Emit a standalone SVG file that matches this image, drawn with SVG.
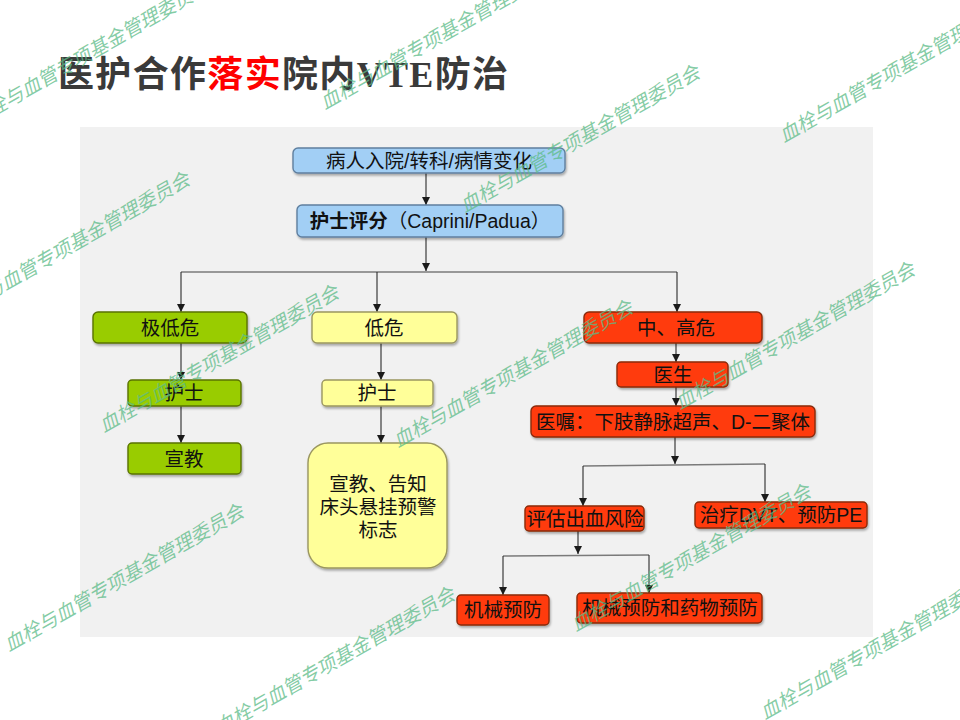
<svg xmlns="http://www.w3.org/2000/svg" width="960" height="720" viewBox="0 0 960 720">
<defs>
<style>
.box{stroke-width:1.4}
.blue{fill:#a2cff5;stroke:#5f7f9f}
.green{fill:#99cc00;stroke:#5a7300}
.yellow{fill:#ffff99;stroke:#9a9660}
.red{fill:#ff3a0a;stroke:#8a2a08}
.t{font-family:"Liberation Sans","Noto Sans CJK SC",sans-serif;font-size:19.5px;fill:#111;text-anchor:middle}
.ln{fill:none;stroke:#2a2a2a;stroke-width:1.1}
.hl{fill:none;stroke:#7a7a7a;stroke-width:1.6}
.wm{font-family:"Noto Sans CJK SC",sans-serif;font-size:19.5px;fill:#5dbb88;fill-opacity:0.75;font-style:italic}
</style>
<marker id="ah" markerUnits="userSpaceOnUse" markerWidth="8" markerHeight="8" refX="4" refY="8" orient="0" viewBox="0 0 8 8">
<path d="M0,0 L8,0 L4,8 z" fill="#1a1a1a"/>
</marker>
<filter id="sh" x="-10%" y="-20%" width="130%" height="160%">
<feDropShadow dx="1" dy="2" stdDeviation="1.2" flood-color="#000" flood-opacity="0.3"/>
</filter>
</defs>
<rect x="0" y="0" width="960" height="720" fill="#ffffff"/>
<text x="58" y="87" font-family="Noto Sans CJK SC,sans-serif" font-size="36" font-weight="bold" fill="#3a3a3a" textLength="450" lengthAdjust="spacing">医护合作<tspan fill="#ff0000">落实</tspan>院内<tspan font-family="Liberation Serif,serif">VTE</tspan>防治</text>
<rect x="80" y="127" width="793" height="510" fill="#f1f1f1"/>
<g id="connectors">
<path class="ln" d="M426,173 V205" marker-end="url(#ah)"/>
<path class="ln" d="M426,237 V271" marker-end="url(#ah)"/>
<path class="hl" d="M181,272 H677"/>
<path class="ln" d="M181,272 V312" marker-end="url(#ah)"/>
<path class="ln" d="M377,272 V312" marker-end="url(#ah)"/>
<path class="ln" d="M677,272 V312" marker-end="url(#ah)"/>
<path class="ln" d="M181,343 V380" marker-end="url(#ah)"/>
<path class="ln" d="M181,406 V443" marker-end="url(#ah)"/>
<path class="ln" d="M381,343 V380" marker-end="url(#ah)"/>
<path class="ln" d="M381,406 V443" marker-end="url(#ah)"/>
<path class="ln" d="M676,343 V362" marker-end="url(#ah)"/>
<path class="ln" d="M676,387 V406" marker-end="url(#ah)"/>
<path class="ln" d="M675,437 V464" marker-end="url(#ah)"/>
<path class="hl" d="M583,466 L765,464"/>
<path class="ln" d="M583,466 V506" marker-end="url(#ah)"/>
<path class="ln" d="M765,464 V502" marker-end="url(#ah)"/>
<path class="ln" d="M578,531 V554" marker-end="url(#ah)"/>
<path class="hl" d="M503,556 L649,555"/>
<path class="ln" d="M503,556 V595" marker-end="url(#ah)"/>
<path class="ln" d="M649,555 V593" marker-end="url(#ah)"/>
</g>
<g id="n1"><rect class="box blue" filter="url(#sh)" x="293" y="148" width="272" height="25" rx="5"/><text class="t" x="429" y="168">病人入院/转科/病情变化</text></g>
<g id="n2"><rect class="box blue" filter="url(#sh)" x="297" y="205" width="266" height="32" rx="5"/><text class="t" x="430" y="228"><tspan font-weight="bold">护士评分</tspan>（Caprini/Padua）</text></g>
<g id="n3"><rect class="box green" filter="url(#sh)" x="93" y="312" width="154" height="31" rx="5"/><text class="t" x="170" y="334.5">极低危</text></g>
<g id="n4"><rect class="box yellow" filter="url(#sh)" x="312" y="312" width="145" height="31" rx="5"/><text class="t" x="384" y="334.5">低危</text></g>
<g id="n5"><rect class="box red" filter="url(#sh)" x="584" y="312" width="178" height="31" rx="5"/><text class="t" x="676" y="334.5">中、高危</text></g>
<g id="n6"><rect class="box green" filter="url(#sh)" x="128" y="380" width="113" height="26" rx="4"/><text class="t" x="184" y="400">护士</text></g>
<g id="n7"><rect class="box green" filter="url(#sh)" x="128" y="443" width="113" height="31" rx="4"/><text class="t" x="184" y="465.5">宣教</text></g>
<g id="n8"><rect class="box yellow" filter="url(#sh)" x="322" y="380" width="111" height="26" rx="4"/><text class="t" x="377" y="400">护士</text></g>
<g id="n9"><rect class="box yellow" filter="url(#sh)" x="308" y="443" width="139" height="125" rx="20"/><text class="t" x="378" y="491">宣教、告知</text><text class="t" x="378" y="514">床头悬挂预警</text><text class="t" x="378" y="537">标志</text></g>
<g id="n10"><rect class="box red" filter="url(#sh)" x="617" y="362" width="111" height="25" rx="4"/><text class="t" x="673" y="382">医生</text></g>
<g id="n11"><rect class="box red" filter="url(#sh)" x="531" y="406" width="284" height="31" rx="5"/><text class="t" x="673" y="428.5">医嘱：下肢静脉超声、D-二聚体</text></g>
<g id="n12"><rect class="box red" filter="url(#sh)" x="525" y="506" width="119" height="25" rx="4"/><text class="t" x="585" y="526">评估出血风险</text></g>
<g id="n13"><rect class="box red" filter="url(#sh)" x="695" y="502" width="172" height="26" rx="4"/><text class="t" x="781" y="522">治疗DVT、预防PE</text></g>
<g id="n14"><rect class="box red" filter="url(#sh)" x="457" y="595" width="92" height="30" rx="4"/><text class="t" x="503" y="617">机械预防</text></g>
<g id="n15"><rect class="box red" filter="url(#sh)" x="577" y="593" width="185" height="30" rx="4"/><text class="t" x="670" y="615">机械预防和药物预防</text></g>
<g id="watermarks">
<text class="wm" transform="translate(-25,127) rotate(-30)">血栓与血管专项基金管理委员会</text>
<text class="wm" transform="translate(325,110) rotate(-30)">血栓与血管专项基金管理委员会</text>
<text class="wm" transform="translate(465,213) rotate(-30)">血栓与血管专项基金管理委员会</text>
<text class="wm" transform="translate(784,143) rotate(-30)">血栓与血管专项基金管理委员会</text>
<text class="wm" transform="translate(-45,320) rotate(-30)">血栓与血管专项基金管理委员会</text>
<text class="wm" transform="translate(104,433) rotate(-30)">血栓与血管专项基金管理委员会</text>
<text class="wm" transform="translate(398,448) rotate(-30)">血栓与血管专项基金管理委员会</text>
<text class="wm" transform="translate(680,410) rotate(-30)">血栓与血管专项基金管理委员会</text>
<text class="wm" transform="translate(9,652) rotate(-30)">血栓与血管专项基金管理委员会</text>
<text class="wm" transform="translate(220,735) rotate(-30)">血栓与血管专项基金管理委员会</text>
<text class="wm" transform="translate(576,632) rotate(-30)">血栓与血管专项基金管理委员会</text>
<text class="wm" transform="translate(765,720) rotate(-30)">血栓与血管专项基金管理委员会</text>
</g>
</svg>
